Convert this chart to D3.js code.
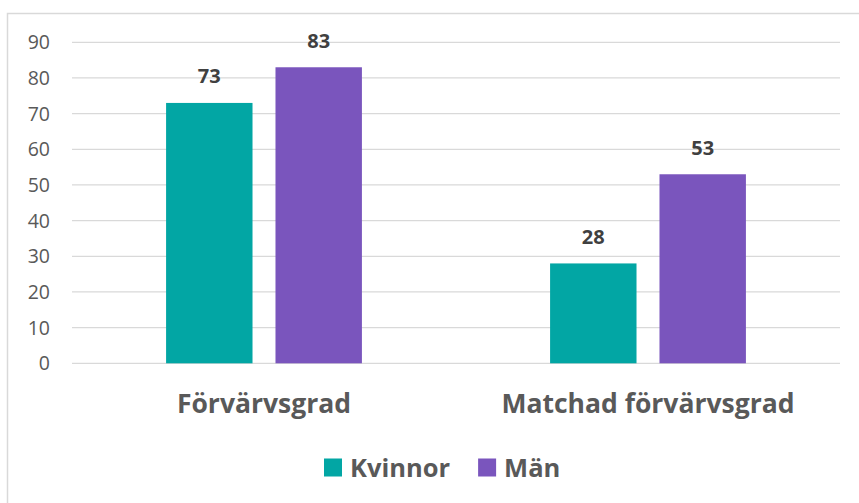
<!DOCTYPE html>
<meta charset="utf-8">
<style>
body { margin: 0; background: #fff; }
text { font-family: "Open Sans", sans-serif; }
.grid line { stroke: #d9d9d9; stroke-width: 1.2px; }
.ytick { fill: #595959; font-size: 19.5px; }
.cat { fill: #595959; font-size: 26.5px; font-weight: bold; }
.lbl { fill: #404040; font-size: 20px; font-weight: bold; }
.leg { fill: #595959; font-size: 25.5px; font-weight: bold; }
</style>
<body>
<script src="https://cdn.jsdelivr.net/npm/d3@7"></script>
<script>
var width = 859,
    height = 503;

var categories = ["Förvärvsgrad", "Matchad förvärvsgrad"];
var series = ["Kvinnor", "Män"];
var kvinnor = [73, 28];
var man = [83, 53];
var yTicks = [0, 10, 20, 30, 40, 50, 60, 70, 80, 90];
var colors = ["#02a6a4", "#7a55bd"];

var values = [kvinnor, man];
var margin = {left: 72, right: 19, top: 42.3, bottom: 139.7};

var svg = d3.select("body").append("svg")
    .attr("width", width)
    .attr("height", height);

// chart border (cut off at right and bottom)
svg.append("rect")
    .attr("x", 7.5).attr("y", 13.5)
    .attr("width", 1000).attr("height", 1000)
    .attr("fill", "none")
    .attr("stroke", "#d9d9d9")
    .attr("stroke-width", 1.5);

var x0 = d3.scaleBand()
    .domain(categories)
    .range([margin.left, width - margin.right]);

var x1 = d3.scaleBand()
    .domain(series)
    .range([0, x0.bandwidth()])
    .paddingInner(0.21)
    .paddingOuter(0.86);

var y = d3.scaleLinear()
    .domain([0, 90])
    .range([height - margin.bottom, margin.top]);

var grid = svg.append("g").attr("class", "grid");
grid.selectAll("line")
    .data(yTicks)
    .enter().append("line")
    .attr("x1", margin.left)
    .attr("x2", width - margin.right)
    .attr("y1", function(d) { return y(d); })
    .attr("y2", function(d) { return y(d); });

svg.selectAll(".ytick")
    .data(yTicks)
    .enter().append("text")
    .attr("class", "ytick")
    .attr("x", 50)
    .attr("y", function(d) { return y(d); })
    .attr("dy", "0.36em")
    .attr("text-anchor", "end")
    .text(function(d) { return d; });

var rows = [];
categories.forEach(function(c, i) {
  series.forEach(function(s, j) {
    rows.push({cat: c, s: s, v: values[j][i], j: j});
  });
});

svg.selectAll(".bar")
    .data(rows)
    .enter().append("rect")
    .attr("class", "bar")
    .attr("x", function(d) { return x0(d.cat) + x1(d.s); })
    .attr("y", function(d) { return y(d.v); })
    .attr("width", x1.bandwidth())
    .attr("height", function(d) { return y(0) - y(d.v); })
    .attr("fill", function(d) { return colors[d.j]; });

svg.selectAll(".lbl")
    .data(rows)
    .enter().append("text")
    .attr("class", "lbl")
    .attr("x", function(d) { return x0(d.cat) + x1(d.s) + x1.bandwidth() / 2; })
    .attr("y", function(d) { return y(d.v) - 19.5; })
    .attr("text-anchor", "middle")
    .text(function(d) { return d.v; });

svg.selectAll(".cat")
    .data(categories)
    .enter().append("text")
    .attr("class", "cat")
    .attr("x", function(d) { return x0(d) + x0.bandwidth() / 2; })
    .attr("y", 412.5)
    .attr("text-anchor", "middle")
    .text(function(d) { return d; });

// legend
var lx = 324;
series.forEach(function(s, j) {
  svg.append("rect")
      .attr("x", lx).attr("y", 458.5)
      .attr("width", 18).attr("height", 18)
      .attr("fill", colors[j]);
  var t = svg.append("text")
      .attr("class", "leg")
      .attr("x", lx + 26)
      .attr("y", 477)
      .text(s);
  lx += 26 + t.node().getComputedTextLength() + 28;
});
</script>
